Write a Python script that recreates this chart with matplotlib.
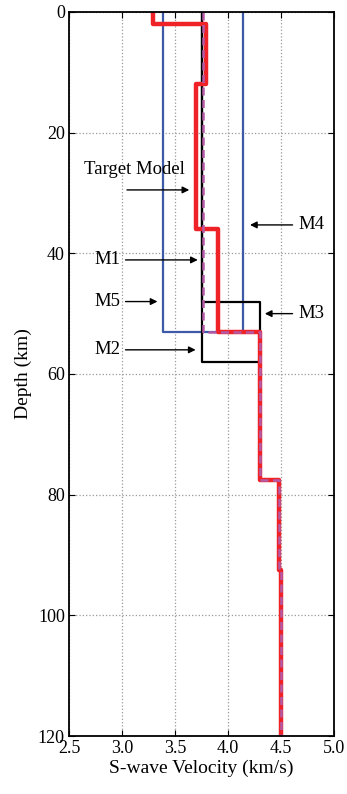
# -*- coding: utf-8 -*-
import numpy as np
import matplotlib
matplotlib.use('Agg')
import matplotlib.pyplot as plt

plt.rcParams['font.family'] = ['Liberation Serif', 'DejaVu Serif']

# 层界面深度(km) 与 每层横波速度(km/s)
target_z = [0, 2, 12, 36, 53, 77.5, 92.5, 120]
target_v = [3.29, 3.795, 3.7, 3.9, 4.3, 4.48, 4.495]
m1_z = [0, 53, 77.5, 92.5, 120]
m1_v = [3.76, 4.3, 4.48, 4.495]
m2_z = [0, 58, 77.5, 92.5, 120]
m2_v = [3.755, 4.3, 4.48, 4.495]
m3_z = [0, 48, 77.5, 92.5, 120]
m3_v = [3.755, 4.3, 4.48, 4.495]
m4_z = [0, 53, 77.5, 92.5, 120]
m4_v = [4.14, 4.3, 4.48, 4.495]
m5_z = [0, 53, 77.5, 92.5, 120]
m5_v = [3.39, 4.3, 4.48, 4.495]


def profile(z, v):
    '''把分层模型转换成阶梯折线'''
    zz = np.repeat(z, 2)[1:-1]
    vv = np.repeat(v, 2)
    return vv, zz


fig = plt.figure(figsize=(3.47, 7.94), dpi=100)
ax = fig.add_axes([0.199, 0.073, 0.764, 0.912])

blue = '#3c5aa8'
red = '#ee2227'
mag = '#b45aa6'

ax.plot(*profile(m5_z, m5_v), color=blue, lw=1.6)
ax.plot(*profile(m4_z, m4_v), color=blue, lw=1.6)
ax.plot(*profile(m3_z, m3_v), color='k', lw=1.6)
ax.plot(*profile(m2_z, m2_v), color='k', lw=1.6)
ax.plot(*profile(target_z, target_v), color=red, lw=3.2)
ax.plot(*profile(m1_z, m1_v), color=mag, lw=1.8, ls=(0, (3.2, 1.8)))

ax.set_xlim(2.5, 5.0)
ax.set_ylim(120, 0)
ax.set_xticks(np.arange(2.5, 5.01, 0.5))
ax.set_xticklabels(['2.5', '3.0', '3.5', '4.0', '4.5', '5.0'])
ax.set_yticks(np.arange(0, 121, 20))
ax.grid(True, ls=':', color='#999999', lw=0.9)
ax.tick_params(direction='in', top=True, right=True, labelsize=13, length=4, pad=3)
for s in ax.spines.values():
    s.set_linewidth(1.3)
ax.set_xlabel('S-wave Velocity (km/s)', fontsize=14, labelpad=2)
ax.set_ylabel('Depth (km)', fontsize=14, labelpad=4)

arr = dict(arrowstyle='-|>', color='k', lw=1.0, mutation_scale=10)
fs = 13.5
ax.annotate('', xy=(3.66, 29.5), xytext=(3.02, 29.5), arrowprops=arr)
ax.text(3.12, 27.5, 'Target Model', fontsize=fs, ha='center', va='bottom')
ax.annotate('M4', xy=(4.18, 35.3), xytext=(4.66, 35.3), arrowprops=arr,
            fontsize=fs, ha='left', va='center')
ax.annotate('M1', xy=(3.74, 41.1), xytext=(2.98, 41.1), arrowprops=arr,
            fontsize=fs, ha='right', va='center')
ax.annotate('M5', xy=(3.36, 48.0), xytext=(2.98, 48.0), arrowprops=arr,
            fontsize=fs, ha='right', va='center')
ax.annotate('M3', xy=(4.32, 50.0), xytext=(4.66, 50.0), arrowprops=arr,
            fontsize=fs, ha='left', va='center')
ax.annotate('M2', xy=(3.72, 56.0), xytext=(2.98, 56.0), arrowprops=arr,
            fontsize=fs, ha='right', va='center')

fig.savefig('out.png', dpi=100)
